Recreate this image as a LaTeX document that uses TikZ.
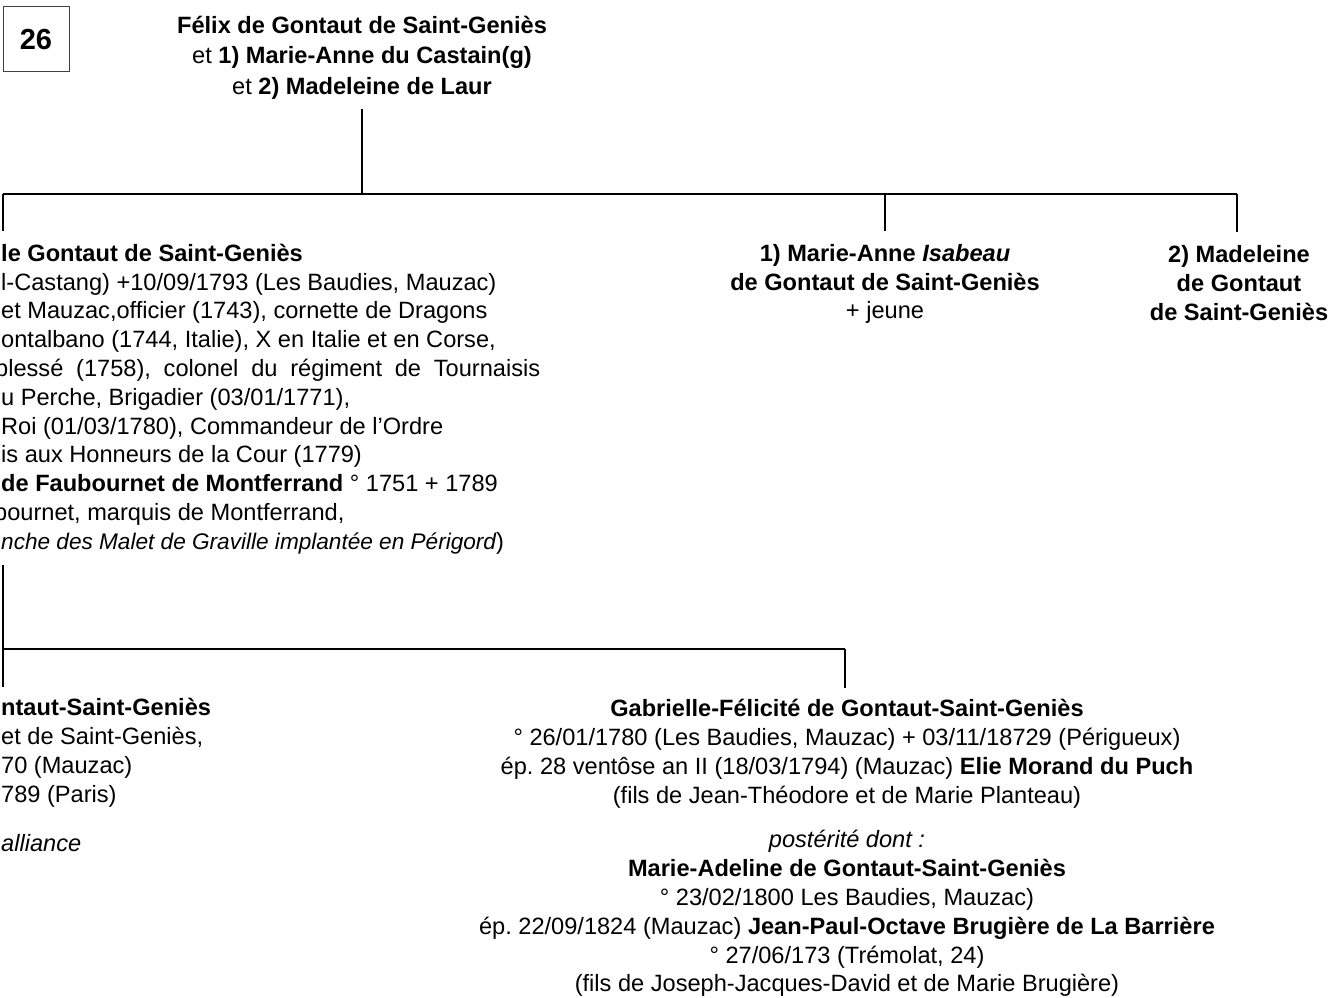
\documentclass[tikz,border=0pt]{standalone}
\usepackage{fontspec}
\setmainfont{Liberation Sans}
\usetikzlibrary{positioning, calc}
\frenchspacing

\begin{document}
\begin{tikzpicture}[x=1pt, y=-1pt,
		person/.style={align=center, inner sep=0pt, font=\fontsize{23.6}{28.8}\selectfont},
		cutperson/.style={align=left, anchor=west, inner sep=0pt, font=\fontsize{23.6}{28.8}\selectfont},
		numbox/.style={draw=black!75, line width=1pt, minimum width=66pt, minimum height=65pt, font=\fontsize{29}{30}\selectfont\bfseries},
		link/.style={line width=2.4pt}
		]
		\useasboundingbox (0,0) rectangle (1331,998);
		\clip (0,0) rectangle (1331,998);
		
		% Page number
		\node[numbox] (page) at (36,39.5) {26};
		
		% Parents
		\node[person, font=\fontsize{23.6}{30.5}\selectfont] (felix) at (362,57.5) {\textbf{Félix de Gontaut de Saint-Geniès}\\
			et \textbf{1) Marie-Anne du Castain(g)}\\
			et \textbf{2) Madeleine de Laur}};
		
		% Children
		\node[cutperson] (officier) at (1,399) {\textbf{le Gontaut de Saint-Geniès}\\
			l-Castang) +10/09/1793 (Les Baudies, Mauzac)\\
			et Mauzac,officier (1743), cornette de Dragons\\
			ontalbano (1744, Italie), X en Italie et en Corse,\\
			\hspace*{-6pt}\makebox[545pt][s]{blessé (1758), colonel du régiment de Tournaisis}\\
			u Perche, Brigadier (03/01/1771),\\
			Roi (01/03/1780), Commandeur de l’Ordre\\
			is aux Honneurs de la Cour (1779)\\
			\textbf{de Faubournet de Montferrand} ° 1751 + 1789\\
			\hspace*{-7pt}bournet, marquis de Montferrand,\\
			{\fontsize{22.6}{28.8}\selectfont\itshape nche des Malet de Graville implantée en Périgord})};
		\node[person] (isabeau) at (885,284) {\textbf{1) Marie-Anne \textit{Isabeau}}\\
			\textbf{de Gontaut de Saint-Geniès}\\
			+ jeune};
		\node[person] (madeleine) at (1239,283) {\textbf{2) Madeleine}\\
			\textbf{de Gontaut}\\
			\textbf{de Saint-Geniès}};
		
		% Grandchildren
		\node[cutperson] (heritier) at (1,775) {\textbf{ntaut-Saint-Geniès}\\
			et de Saint-Geniès,\\
			70 (Mauzac)\\
			789 (Paris)\\[20pt]
			\textit{alliance}};
		\node[person] (gabrielle) at (847,848) {\textbf{Gabrielle-Félicité de Gontaut-Saint-Geniès}\\
			° 26/01/1780 (Les Baudies, Mauzac) + 03/11/18729 (Périgueux)\\
			ép. 28 ventôse an II (18/03/1794) (Mauzac) \textbf{Elie Morand du Puch}\\
			(fils de Jean-Théodore et de Marie Planteau)\\[16pt]
			\textit{postérité dont :}\\
			\textbf{Marie-Adeline de Gontaut-Saint-Geniès}\\
			° 23/02/1800 Les Baudies, Mauzac)\\
			ép. 22/09/1824 (Mauzac) \textbf{Jean-Paul-Octave Brugière de La Barrière}\\
			° 27/06/173 (Trémolat, 24)\\
			(fils de Joseph-Jacques-David et de Marie Brugière)};
		
		% Tree lines, first generation
		\coordinate (fork_l) at (3,194);
		\coordinate (fork_r) at (1237,194);
		\draw[link] ($(felix.south)+(0,10)$) -- (felix.south |- fork_l);
		\draw[link] (fork_l) -- (fork_r);
		\draw[link] (fork_l) -- ($(fork_l |- officier.north)+(0,-13)$);
		\draw[link] (isabeau.north |- fork_l) -- ($(isabeau.north)+(0,-13)$);
		\draw[link] (fork_r) -- ($(fork_r |- madeleine.north)+(0,-13)$);
		
		% Tree lines, second generation
		\coordinate (fork2_l) at (3,649);
		\coordinate (fork2_r) at (845,649);
		\draw[link] ($(fork2_l |- officier.south)+(0,11)$) -- ($(fork2_l |- heritier.north)+(0,-11)$);
		\draw[link] (fork2_l) -- (fork2_r);
		\draw[link] (fork2_r) -- ($(fork2_r |- gabrielle.north)+(0,-11)$);
		
	\end{tikzpicture}
\end{document}
